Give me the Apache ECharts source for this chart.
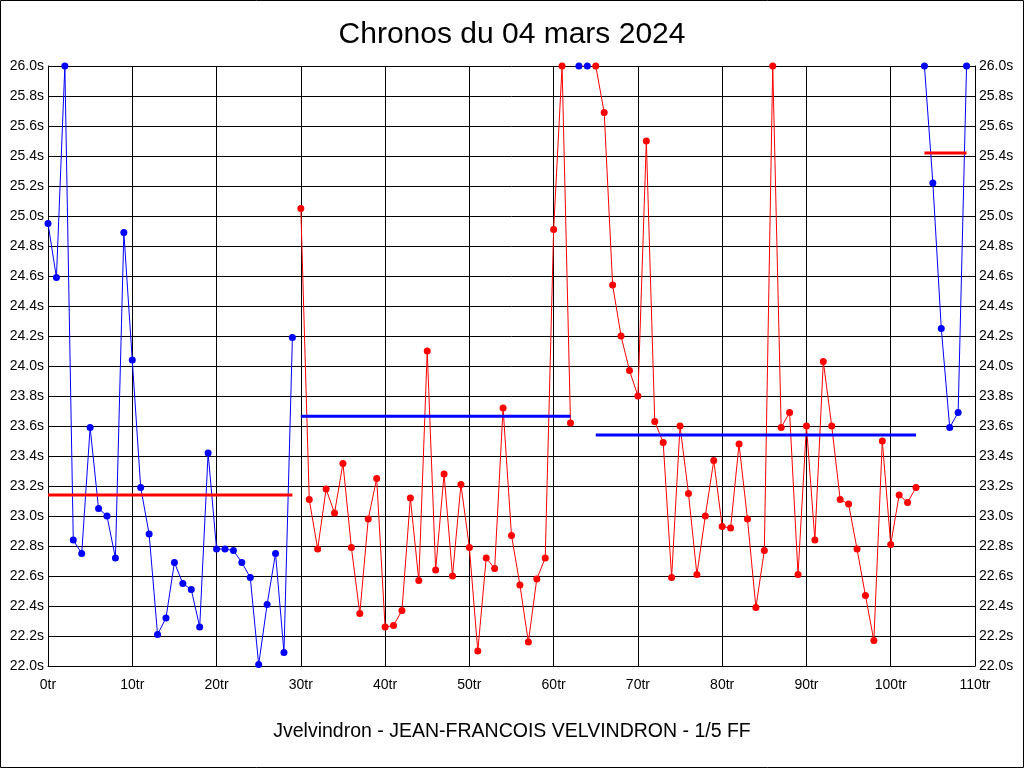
<!DOCTYPE html>
<html>
<head>
<meta charset="utf-8">
<script src="https://cdn.jsdelivr.net/npm/echarts@6/dist/echarts.min.js"></script>
<style>
html,body{margin:0;padding:0;background:#fff;}
#c{width:1024px;height:768px;}
</style>
</head>
<body>
<div id="c"></div>
<script>
const titleText = 'Chronos du 04 mars 2024';
const footerText = 'Jvelvindron - JEAN-FRANCOIS VELVINDRON - 1/5 FF';

// Segment 1 (blue), laps 0..29
const seg1Start = 0;
const seg1 = [24.95, 24.59, 26.0, 22.84, 22.75, 23.59, 23.05, 23.00, 22.72, 24.89,
  24.04, 23.19, 22.88, 22.21, 22.32, 22.69, 22.55, 22.51, 22.26, 23.42,
  22.78, 22.78, 22.77, 22.69, 22.59, 22.01, 22.41, 22.75, 22.09, 24.19];
// Segment 2 (red), laps 30..62
const seg2Start = 30;
const seg2 = [25.05, 23.11, 22.78, 23.18, 23.02, 23.35, 22.79, 22.35, 22.98, 23.25,
  22.26, 22.27, 22.37, 23.12, 22.57, 24.10, 22.64, 23.28, 22.60, 23.21,
  22.79, 22.10, 22.72, 22.65, 23.72, 22.87, 22.54, 22.16, 22.58, 22.72,
  24.91, 26.0, 23.62];
// Segment 3 (blue points), laps 63..64
const seg3Start = 63;
const seg3 = [26.0, 26.0];
// Segment 4 (red), laps 65..103
const seg4Start = 65;
const seg4 = [26.0, 25.69, 24.54, 24.20, 23.97, 23.80, 25.50, 23.63, 23.49, 22.59,
  23.60, 23.15, 22.61, 23.00, 23.37, 22.93, 22.92, 23.48, 22.98, 22.39,
  22.77, 26.0, 23.59, 23.69, 22.61, 23.60, 22.84, 24.03, 23.60, 23.11,
  23.08, 22.78, 22.47, 22.17, 23.50, 22.81, 23.14, 23.09, 23.19];
// Segment 5 (blue), laps 104..109
const seg5Start = 104;
const seg5 = [26.0, 25.22, 24.25, 23.59, 23.69, 26.0];

// Average lines: [fromLap, toLap, value]
const avg1 = [0, 29, 23.14];
const avg2 = [30, 62, 23.665];
const avg3 = [65, 103, 23.54];
const avg4 = [104, 109, 25.42];

const xTicks = [0, 10, 20, 30, 40, 50, 60, 70, 80, 90, 100, 110];

const BLUE = '#0000ff', RED = '#ff0000';
const FONT = 'Liberation Sans, Arial, sans-serif';

function pts(start, arr){ return arr.map((v,i)=>[start+i, v]); }

function seg(start, arr, color, lineColor){
  return {
    type:'line', data: pts(start, arr), xAxisIndex:0, yAxisIndex:0,
    symbol:'circle', symbolSize:7, showSymbol:true,
    lineStyle:{color: lineColor || color, width:1},
    itemStyle:{color: color},
    animation:false, silent:true, z:3
  };
}
function avg(a, color){
  return {
    type:'line', data:[[a[0], a[2]],[a[1], a[2]]], symbol:'none',
    lineStyle:{color:color, width:3}, animation:false, silent:true, z:4
  };
}

const chart = echarts.init(document.getElementById('c'), null, {renderer:'canvas'});
const yAxisCommon = {
  type:'value', min:22, max:26, interval:0.2,
  axisLine:{show:true, lineStyle:{color:'#000', width:1}},
  axisTick:{show:false},
  splitLine:{show:true, lineStyle:{color:'#000', width:1}},
  axisLabel:{color:'#000', fontFamily:FONT, fontSize:14, margin:4,
    formatter:v=>v.toFixed(1)+'s'}
};
chart.setOption({
  backgroundColor:'#fff',
  animation:false,
  title:{text:titleText, left:'center', top:15,
    textStyle:{fontFamily:FONT, fontSize:30, fontWeight:'normal', color:'#000'}},
  grid:{left:48, right:49, top:66, bottom:102, containLabel:false},
  xAxis:{type:'value', min:0, max:110, interval:10,
    axisLine:{show:true, lineStyle:{color:'#000', width:1}},
    axisTick:{show:false},
    splitLine:{show:true, lineStyle:{color:'#000', width:1}},
    axisLabel:{color:'#000', fontFamily:FONT, fontSize:14, margin:12,
      formatter:v=> xTicks.includes(v) ? v+'tr' : ''}
  },
  yAxis:[
    Object.assign({}, yAxisCommon, {position:'left'}),
    Object.assign({}, yAxisCommon, {position:'right', splitLine:{show:false}})
  ],
  graphic:[
    {type:'rect', shape:{x:0.5, y:0.5, width:1023, height:767}, style:{fill:null, stroke:'#000', lineWidth:1}, silent:true},
    {type:'text', left:'center', top:722, style:{text:footerText, fontFamily:FONT, fontSize:19.5, fill:'#000'}}
  ],
  series:[
    seg(seg1Start, seg1, BLUE),
    seg(seg2Start, seg2, RED),
    seg(seg3Start, seg3, BLUE, RED),
    seg(seg4Start, seg4, RED),
    seg(seg5Start, seg5, BLUE),
    avg(avg1, RED), avg(avg2, BLUE), avg(avg3, BLUE), avg(avg4, RED)
  ]
});
</script>
</body>
</html>
